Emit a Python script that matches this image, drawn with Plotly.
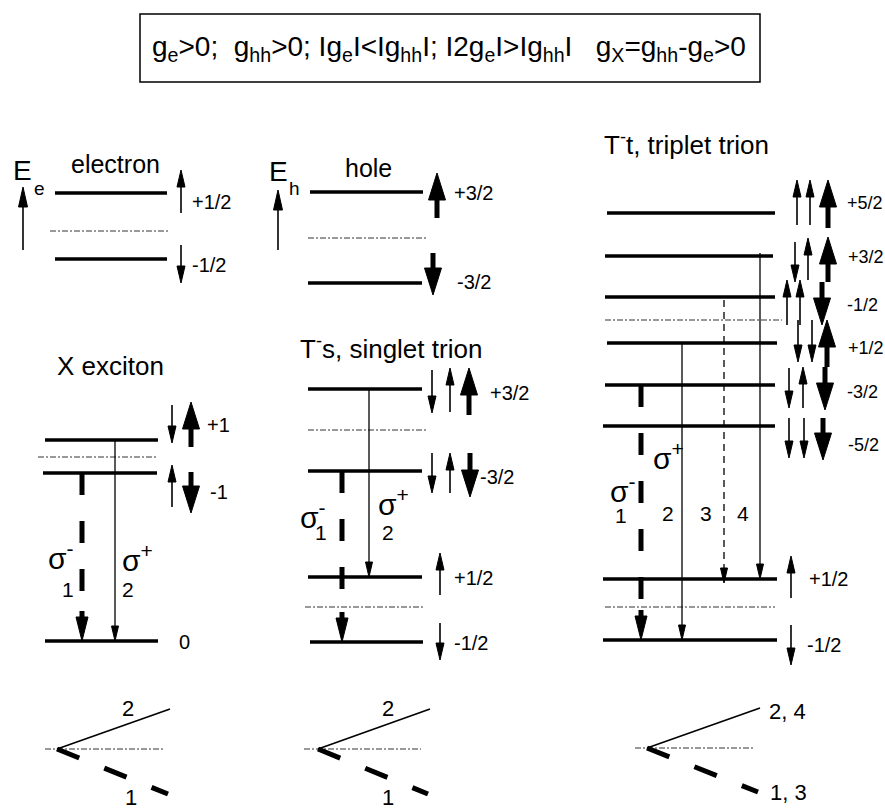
import plotly.graph_objects as go

W, H = 885, 809
FONT = "Liberation Sans, Arial, Helvetica, sans-serif"

# ---------------- level diagram data (diagram units = px on the canvas) ----------------
# energy levels: (x_start, x_end, y)
electron_levels = [(55, 167, 193), (55, 167, 259)]
hole_levels = [(310, 423, 192), (308, 422, 283)]
exciton_levels = [(45, 158, 440), (43, 157, 473), (45, 158, 641)]
singlet_levels = [(308, 422, 389), (308, 422, 471), (308, 422, 577), (310, 423, 642)]
triplet_levels = [(607, 775, 213), (605, 773, 256), (605, 775, 297), (607, 777, 343),
                  (605, 775, 385), (603, 775, 426), (603, 777, 579), (603, 777, 640)]

# zero-field (mean) energies, drawn dash-dot: (x_start, x_end, y)
mean_levels = [(50, 168, 231), (308, 427, 238), (38, 157, 457), (308, 427, 430),
               (305, 423, 607), (605, 782, 320), (605, 775, 607)]

# spin arrows: (x, y_tail, y_tip, kind)
electron_spins = [(181, 213, 170, "thin"), (181, 245, 283, "thin")]
hole_spins = [(437, 218, 173, "thick"), (433, 253, 295, "thick")]
exciton_spins = [(172, 405, 443, "thin"), (191, 447, 402, "thick"),
                 (172, 507, 465, "thin"), (191, 472, 513, "thick")]
singlet_spins = [(432, 370, 413, "thin"), (450, 412, 368, "thin"), (469, 415, 368, "thick"),
                 (432, 453, 493, "thin"), (450, 493, 453, "thin"), (470, 453, 497, "thick"),
                 (440, 595, 553, "thin"), (440, 623, 660, "thin")]
triplet_spins = [(797, 225, 180, "thin"), (810, 225, 180, "thin"), (828, 228, 180, "thick"),
                 (795, 242, 282, "thin"), (808, 280, 238, "thin"), (828, 282, 237, "thick"),
                 (787, 325, 280, "thin"), (800, 325, 280, "thin"), (822, 282, 325, "thick"),
                 (798, 320, 362, "thin"), (812, 320, 362, "thin"), (827, 367, 320, "thick"),
                 (789, 368, 408, "thin"), (803, 408, 367, "thin"), (825, 367, 410, "thick"),
                 (789, 418, 458, "thin"), (804, 418, 458, "thin"), (823, 418, 460, "thick"),
                 (791, 598, 556, "thin"), (791, 625, 665, "thin")]
energy_axes = [(23, 250, 187), (278, 250, 190)]

# optical transitions: (x, y_from, y_to, style)
transitions = [(82, 473, 641, "sigma-"), (115, 440, 641, "solid"),
               (342, 471, 642, "sigma-"), (369, 389, 577, "solid"),
               (641, 385, 640, "sigma-"), (682, 343, 640, "solid"),
               (724, 300, 583, "dashed"), (760, 253, 579, "solid")]

# spin projection labels: (text, x, y)
level_labels = [("+1/2", 190, 202), ("-1/2", 190, 265),
                ("+3/2", 452, 193), ("-3/2", 455, 282),
                ("+1", 205, 425), ("-1", 208, 492), ("0", 177, 642),
                ("+3/2", 488, 393), ("-3/2", 478, 477), ("+1/2", 452, 578), ("-1/2", 452, 643),
                ("+1/2", 807, 579), ("-1/2", 805, 645)]
triplet_labels = [("+5/2", 845, 203), ("+3/2", 846, 257), ("-1/2", 845, 305),
                  ("+1/2", 846, 348), ("-3/2", 845, 392), ("-5/2", 846, 445)]

# transition numbers: (text, x, y)
transition_numbers = [("1", 68, 589), ("2", 128, 589), ("1", 321, 532), ("2", 388, 532),
                      ("1", 621, 515), ("2", 668, 513), ("3", 706, 513), ("4", 743, 513)]
# polarisation labels: (sign, x, y)
sigma_labels = [("-", 57, 556), ("+", 131, 558), ("-", 309, 515), ("+", 387, 502),
                ("-", 619, 489), ("+", 662, 456)]

# polarisation fan at the bottom: vertex, end of sigma+ branch, end of sigma- branch, labels
fan_vertices = [(57, 749), (318, 749), (647, 748)]
fan_plus_ends = [(170, 709), (430, 709), (760, 708)]
fan_minus_ends = [(168, 794), (428, 794), (758, 792)]
fan_mean_x = [(45, 163), (304, 421), (635, 753)]
fan_labels = [("2", 128, 708, "center"), ("1", 131, 797, "center"),
              ("2", 388, 708, "center"), ("1", 388, 797, "center"),
              ("2, 4", 767, 711, "left"), ("1, 3", 768, 792, "left")]

shapes = []
annotations = []


def line(x0, y0, x1, y1, width=1.5, dash="solid", color="black"):
    shapes.append(dict(type="line", xref="x", yref="y", x0=x0, y0=y0, x1=x1, y1=y1,
                       line=dict(color=color, width=width, dash=dash)))


def tri(x, y_tip, direction, length, width):
    base = y_tip - direction * length
    shapes.append(dict(type="path", xref="x", yref="y",
                       path=f"M {x - width / 2},{base} L {x + width / 2},{base} L {x},{y_tip} Z",
                       fillcolor="black", line=dict(color="black", width=1)))


def arrow(x, y_tail, y_tip, kind):
    d = 1 if y_tip > y_tail else -1
    if kind == "thick":
        hl, hw, sw = 27, 17, 5
    elif kind == "axis":
        hl, hw, sw = 20, 9, 1.6
    elif kind == "trans":
        hl, hw, sw = 15, 7, 1.3
    else:
        hl, hw, sw = 17, 8, 1.6
    line(x, y_tail, x, y_tip - d * (hl - 2), width=sw)
    tri(x, y_tip, d, hl, hw)


def text(t, x, y, size, anchor="left", family=FONT):
    annotations.append(dict(text=t, x=x, y=y, xref="x", yref="y", showarrow=False,
                            xanchor=anchor, yanchor="middle",
                            font=dict(family=family, size=size, color="black")))


# levels
for lv in electron_levels + hole_levels + exciton_levels + singlet_levels + triplet_levels:
    line(lv[0], lv[2], lv[1], lv[2], width=3.5)
for x0, x1, y in mean_levels:
    line(x0, y, x1, y, width=1, dash="6px,2px,2px,2px", color="#333")

# spins
for x, y0, y1, k in electron_spins + hole_spins + exciton_spins + singlet_spins + triplet_spins:
    arrow(x, y0, y1, k)
for x, y0, y1 in energy_axes:
    arrow(x, y0, y1, "axis")

# transitions
for x, y0, y1, style in transitions:
    if style == "sigma-":
        head_len = 26
        line(x, y0, x, y1 - head_len - 2, width=5, dash="22px,26px")
        line(x, y1 - head_len - 4, x, y1 - head_len + 4, width=5)
        tri(x, y1, 1, head_len - 2, 12)
    elif style == "dashed":
        line(x, y0, x, y1 - 13, width=1.3, dash="7px,5px")
        tri(x, y1, 1, 15, 7)
    else:
        arrow(x, y0, y1, "trans")

# polarisation fans
for (vx, vy), (px, py), (mx, my), (dx0, dx1) in zip(fan_vertices, fan_plus_ends,
                                                    fan_minus_ends, fan_mean_x):
    line(dx0, vy, dx1, vy, width=1, dash="6px,2px,2px,2px", color="#333")
    line(vx, vy, px, py, width=1.6)
    line(vx, vy, mx, my, width=5, dash="24px,27px")

# header
shapes.append(dict(type="rect", xref="x", yref="y", x0=140, y0=14, x1=760, y1=82,
                   line=dict(color="black", width=1.5), fillcolor="rgba(0,0,0,0)"))
header = ("g<sub>e</sub>&gt;0;\u00a0\u00a0g<sub>hh</sub>&gt;0; Ig<sub>e</sub>I&lt;Ig<sub>hh</sub>I; "
          "I2g<sub>e</sub>I&gt;Ig<sub>hh</sub>I\u00a0\u00a0\u00a0g<sub>X</sub>=g<sub>hh</sub>-g<sub>e</sub>&gt;0")
text(header, 449, 48, 28, anchor="center")

# titles
text("electron", 115, 164, 25, anchor="center")
text("hole", 368, 168, 25, anchor="center")
text("X exciton", 110, 366, 26, anchor="center")
text("T<sup>-</sup>s, singlet trion", 298, 347, 26)
text("T<sup>-</sup>t, triplet trion", 602, 143, 26)
text("E", 11, 170, 28)
text("e", 32, 188, 19)
text("E", 267, 171, 28)
text("h", 287, 188, 19)

for t, x, y in level_labels:
    text(t, x, y, 20)
for t, x, y in triplet_labels:
    text(t, x, y, 18)
for t, x, y in transition_numbers:
    text(t, x, y, 21, anchor="center")
for s, x, y in sigma_labels:
    text("\u03c3<sup>" + s + "</sup>", x - 11, y, 30)
for t, x, y, a in fan_labels:
    text(t, x, y, 22, anchor=a)

fig = go.Figure()
fig.update_layout(
    width=W, height=H, margin=dict(l=0, r=0, t=0, b=0),
    paper_bgcolor="white", plot_bgcolor="white",
    xaxis=dict(range=[0, W], visible=False, fixedrange=True),
    yaxis=dict(range=[H, 0], visible=False, fixedrange=True),
    shapes=shapes, annotations=annotations, showlegend=False,
)
fig.write_html("out.html")
